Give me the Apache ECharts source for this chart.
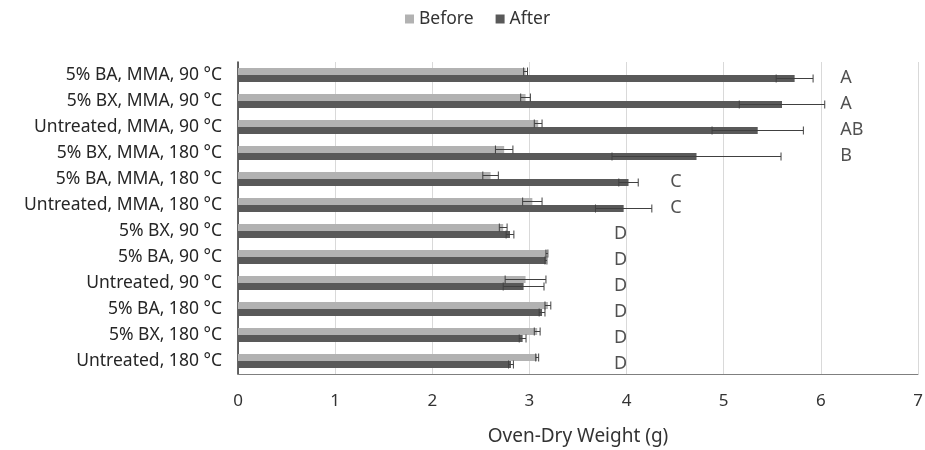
<!DOCTYPE html>
<html>
<head>
<meta charset="utf-8">
<script src="https://cdn.jsdelivr.net/npm/echarts@6/dist/echarts.min.js"></script>
<style>
    html, body { margin: 0; padding: 0; background: #fff; }
    #main { width: 925px; height: 450px; }
</style>
</head>
<body>
<div id="main"></div>
<script>
var categories = [
    '5% BA, MMA, 90 °C',
    '5% BX, MMA, 90 °C',
    'Untreated, MMA, 90 °C',
    '5% BX, MMA, 180 °C',
    '5% BA, MMA, 180 °C',
    'Untreated, MMA, 180 °C',
    '5% BX, 90 °C',
    '5% BA, 90 °C',
    'Untreated, 90 °C',
    '5% BA, 180 °C',
    '5% BX, 180 °C',
    'Untreated, 180 °C'
];
var beforeValues = [2.96, 2.96, 3.09, 2.74, 2.60, 3.03, 2.73, 3.18, 2.96, 3.19, 3.08, 3.08];
var beforeErr    = [0.02, 0.05, 0.04, 0.09, 0.08, 0.10, 0.04, 0.01, 0.21, 0.03, 0.03, 0.015];
var afterValues  = [5.73, 5.60, 5.35, 4.72, 4.02, 3.97, 2.80, 3.17, 2.94, 3.13, 2.93, 2.81];
var afterErr     = [0.19, 0.44, 0.47, 0.87, 0.10, 0.29, 0.04, 0.01, 0.21, 0.03, 0.035, 0.025];
var letters      = ['A', 'A', 'AB', 'B', 'C', 'C', 'D', 'D', 'D', 'D', 'D', 'D'];
var letterX      = [6.2, 6.2, 6.2, 6.2, 4.45, 4.45, 3.87, 3.87, 3.87, 3.87, 3.87, 3.87];
var xTicks = [0, 1, 2, 3, 4, 5, 6, 7];

var BAR_W = 7;
var FONT = 'Noto Sans';

// error bar drawn as a custom series, shifted onto its own bar
function errorSeries(values, errs, shift) {
    var data = [];
    for (var i = 0; i < values.length; i++) {
        data.push([i, values[i] - errs[i], values[i] + errs[i]]);
    }
    return {
        type: 'custom',
        silent: true,
        z: 5,
        data: data,
        encode: { y: 0, x: [1, 2] },
        renderItem: function (params, api) {
            var idx = api.value(0);
            var lo = api.coord([api.value(1), idx]);
            var hi = api.coord([api.value(2), idx]);
            var y = lo[1] + shift;
            var cap = 4;
            var style = { stroke: '#404040', lineWidth: 1 };
            return {
                type: 'group',
                children: [
                    { type: 'line', shape: { x1: lo[0], y1: y, x2: hi[0], y2: y }, style: style },
                    { type: 'line', shape: { x1: lo[0], y1: y - cap, x2: lo[0], y2: y + cap }, style: style },
                    { type: 'line', shape: { x1: hi[0], y1: y - cap, x2: hi[0], y2: y + cap }, style: style }
                ]
            };
        }
    };
}

var chart = echarts.init(document.getElementById('main'));
var option = {
    backgroundColor: '#ffffff',
    animation: false,
    textStyle: { fontFamily: FONT },
    legend: {
        top: 5,
        left: 400,
        icon: 'rect',
        itemWidth: 9,
        itemHeight: 9,
        itemGap: 22,
        data: ['Before', 'After'],
        textStyle: { fontSize: 17.5, color: '#333', fontFamily: FONT }
    },
    grid: { left: 238, right: 7, top: 62, bottom: 76, outerBoundsMode: 'none' },
    xAxis: {
        type: 'value',
        min: xTicks[0],
        max: xTicks[xTicks.length - 1],
        interval: 1,
        name: 'Oven-Dry Weight (g)',
        nameLocation: 'middle',
        nameGap: 53,
        nameTextStyle: { fontSize: 19, color: '#333', fontFamily: FONT },
        axisLine: { show: true, lineStyle: { color: '#7f7f7f', width: 1 } },
        axisTick: { show: false },
        axisLabel: { fontSize: 17, color: '#333', margin: 19, fontFamily: FONT },
        splitLine: { show: true, lineStyle: { color: '#d9d9d9' } }
    },
    yAxis: {
        type: 'category',
        inverse: true,
        data: categories,
        axisLine: { show: true, lineStyle: { color: '#333', width: 1.5 } },
        axisTick: { show: false },
        axisLabel: { fontSize: 17.5, color: '#262626', margin: 16, fontFamily: FONT }
    },
    series: [
        {
            name: 'Before',
            type: 'bar',
            data: beforeValues,
            barWidth: BAR_W,
            barGap: '0%',
            itemStyle: { color: '#b2b2b2' }
        },
        {
            name: 'After',
            type: 'bar',
            data: afterValues,
            barWidth: BAR_W,
            barGap: '0%',
            itemStyle: { color: '#595959' }
        },
        errorSeries(beforeValues, beforeErr, -BAR_W / 2),
        errorSeries(afterValues, afterErr, BAR_W / 2),
        {
            type: 'scatter',
            silent: true,
            symbolSize: 0,
            data: letterX.map(function (x, i) { return [x, i]; }),
            label: {
                show: true,
                position: 'inside',
                align: 'left',
                offset: [0, 3],
                fontSize: 18,
                color: '#262626',
                fontFamily: FONT,
                formatter: function (p) { return letters[p.dataIndex]; }
            }
        }
    ]
};
chart.setOption(option);
</script>
</body>
</html>
